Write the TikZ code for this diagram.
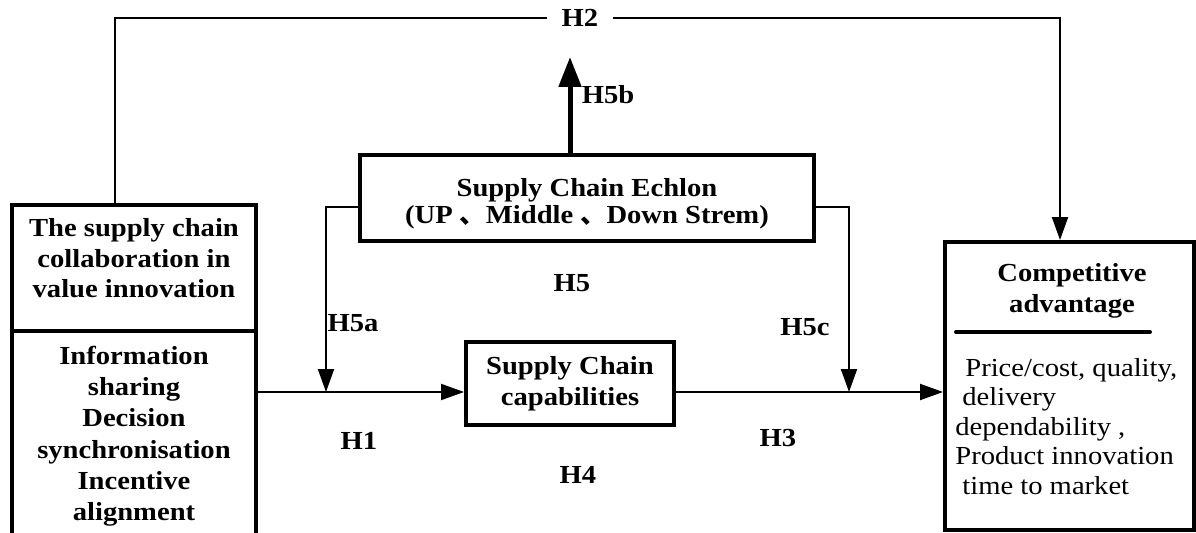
\documentclass[tikz,border=0pt]{standalone}
\usepackage{fontspec}
\setmainfont{Liberation Serif}[FakeStretch=1.1]
\newfontfamily\cjk{Noto Sans CJK SC}
\usepackage{tikz}
\usetikzlibrary{arrows.meta, positioning}
\newcommand{\diagfont}{\fontsize{14.8pt}{17.6pt}\selectfont}
\tikzstyle{box} = [rectangle, 
draw=black, 
line width=0.08cm, 
align=center, 
inner sep=0pt, 
font=\diagfont\bfseries]
\tikzstyle{hlabel} = [font=\diagfont\bfseries, inner sep=1pt]
\tikzstyle{arrow} = [line width=0.04cm, -{Triangle[length=0.46cm, width=0.32cm]}]
\tikzstyle{bigarrow} = [line width=0.1cm, -{Triangle[length=0.6cm, width=0.44cm]}]

\begin{document}
\begin{tikzpicture}[x=0.02cm, y=-0.02cm]
        \useasboundingbox (0,0) rectangle (1196,533);

        \node (collab) [box, minimum width=4.88cm, minimum height=2.52cm, text depth=0.4cm] at (134,268) {The supply chain\\collaboration in\\value innovation};
        \node (info) [box, below=-0.08cm of collab, minimum width=4.88cm, inner ysep=0.3cm, anchor=north, font=\fontsize{14.8pt}{17.8pt}\selectfont\bfseries] {Information\\sharing\\Decision\\synchronisation\\Incentive\\alignment};
        \node (echelon) [box, minimum width=9.08cm, minimum height=1.72cm, font=\fontsize{14.8pt}{15.6pt}\selectfont\bfseries] at (587,198) {\rule{0pt}{0.6cm}Supply Chain Echlon\\(UP {\cjk 、}Middle {\cjk 、}Down Strem)};
        \node (capab) [box, minimum width=4.16cm, minimum height=1.66cm] at (570,383.5) {Supply Chain\\capabilities};
        \node (compet) [box, minimum width=4.98cm, minimum height=5.76cm] at (1069.5,386) {};
        \node (comphead) [align=center, font=\diagfont\bfseries, inner sep=0pt] at (1072,291) {Competitive\\advantage};
        \node (compbody) [anchor=north west, align=left, inner sep=0pt, font=\fontsize{14.8pt}{16.8pt}\selectfont] at (955,358) {\hspace*{0.2cm}Price/cost, quality,\\\hspace*{0.14cm}delivery\\dependability ,\\Product innovation\\\hspace*{0.14cm}time to market};
        \draw [line width=0.08cm, line cap=round] ([xshift=0.26cm, yshift=-1.84cm]compet.north west) -- ([xshift=-0.92cm, yshift=-1.84cm]compet.north east);

        \coordinate (h2l) at (115,18);
        \coordinate (h2r) at (1060,18);
        \coordinate (h5btip) at (570,57);
        \coordinate (ja) at (326,392);
        \coordinate (jc) at (849,392);

        \draw [arrow] (collab.north -| h2l) -- (h2l) -- node[hlabel, fill=white, inner xsep=0.3cm, pos=0.492] {H2} (h2r) -- (compet.north -| h2r);
        \draw [bigarrow] (echelon.north -| h5btip) -- (h5btip);
        \draw [arrow] ([yshift=-0.18cm]echelon.west) -| (ja);
        \draw [arrow] ([yshift=-0.18cm]echelon.east) -| (jc);
        \draw [arrow] (info.east |- ja) -- (capab.west |- ja);
        \draw [arrow] (capab.east |- ja) -- (compet.west |- ja);

        \node (lh5b) [hlabel] at (608,95) {H5b};
        \node (lh5) [hlabel] at (572,283) {H5};
        \node (lh5a) [hlabel] at (353,323) {H5a};
        \node (lh5c) [hlabel] at (805,327) {H5c};
        \node (lh1) [hlabel] at (359,441) {H1};
        \node (lh3) [hlabel] at (778,438) {H3};
        \node (lh4) [hlabel] at (578,475) {H4};

    \end{tikzpicture}
\end{document}
